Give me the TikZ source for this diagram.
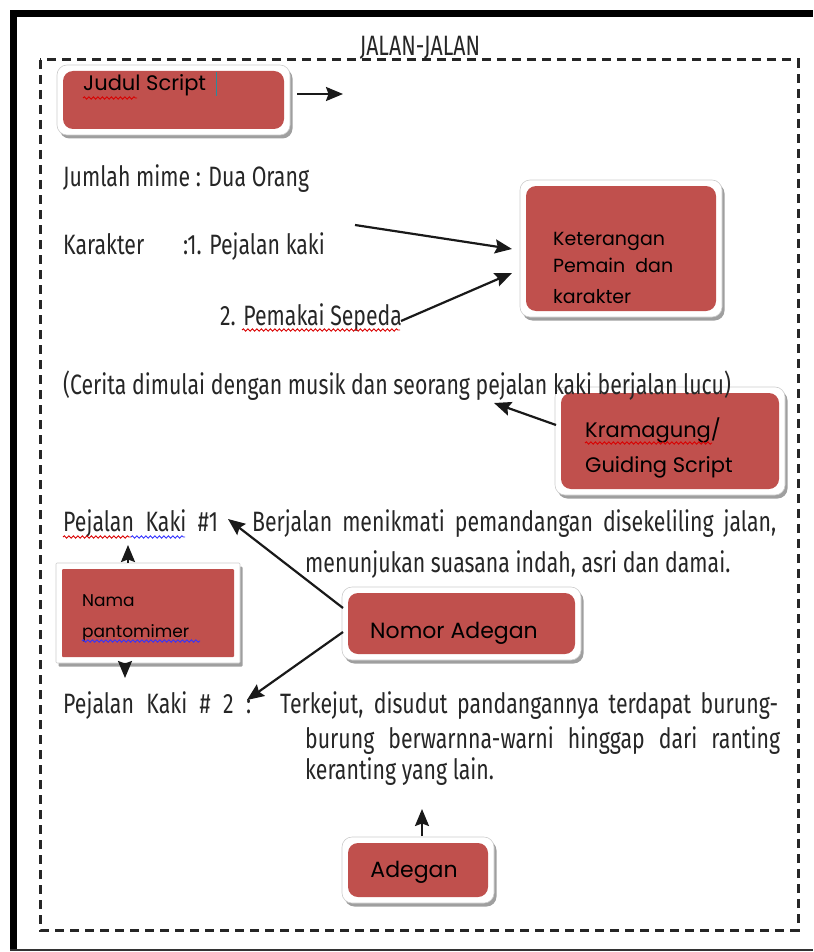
\documentclass[tikz,border=0pt]{standalone}
\usepackage{fontspec}
\setmainfont{Fira Sans}
\newfontfamily\bodyf[FakeStretch=0.76]{Fira Sans}
\newfontfamily\boxf{Poppins}
\usetikzlibrary{arrows.meta,shadows,decorations.pathmorphing}
\definecolor{boxred}{HTML}{C0504D}
\definecolor{txt}{HTML}{262626}
\definecolor{cursorc}{HTML}{2A8C9C}
\begin{document}
\begin{tikzpicture}[x=1pt,y=-1pt,
  body/.style={anchor=base west, inner sep=0pt, text=txt, font=\bodyf\fontsize{28}{30}\selectfont},
  boxtxt/.style={anchor=base west, inner sep=0pt, text=black, font=\boxf\fontsize{#1}{#1}\selectfont},
  boxtxt/.default=20,
  frame/.style={draw=gray!40, line width=0.6pt, fill=white, inner sep=0pt,
     rounded corners=#1,
     drop shadow={shadow xshift=2.5pt, shadow yshift=-3.5pt, opacity=0.5, fill=black!75},
     path picture={\fill[boxred, rounded corners=#1] ([shift={(6pt,-6pt)}]path picture bounding box.north west) rectangle ([shift={(-6pt,6pt)}]path picture bounding box.south east);}},
  frame/.default=10pt,
  tipshape/.tip={Stealth[length=17pt,width=14pt,inset=2.5pt]},
  arr/.style={draw=black!90, line width=2.2pt, -tipshape},
  redwave/.style={draw=red!85!black, line width=0.9pt, decorate, decoration={snake, amplitude=1.2pt, segment length=4.5pt}},
  bluewave/.style={draw=blue!80, line width=0.9pt, decorate, decoration={snake, amplitude=1.2pt, segment length=4.5pt}}
]
\useasboundingbox (0,0) rectangle (813,952);
% outer frame
\fill[black] (10,10) rectangle (813,17);
\fill[black] (10,10) rectangle (17,951);
\draw[black!80, line width=1.5pt] (10,950) -- (813,950);
% dashed box
\draw[black!85, line width=3pt, dash pattern=on 9pt off 6pt] (40,60) rectangle (798,930);
\node[body, anchor=base] (title) at (420,56) {JALAN-JALAN};

% boxes
\node[frame, minimum width=233pt, minimum height=70pt] (judul) at (173.5,100) {};
\node[boxtxt=21] (judulT) at (83,91) {Judul Script};
\draw[redwave] (83,98) -- (137,98);
\draw[cursorc, line width=1pt] (216,72) -- (216,96);

\node[frame, minimum width=202pt, minimum height=137pt] (ket) at (621,248.5) {};
\node[boxtxt=19] (ket1) at (553,245) {Keterangan};
\node[boxtxt=19] (ket2) at (553,272) {Pemain\ \ dan};
\node[boxtxt=19] (ket3) at (553,303) {karakter};

\node[frame, minimum width=230pt, minimum height=108pt] (kram) at (670,441) {};
\node[boxtxt=21] (kram1) at (585,437) {Kramagung/};
\node[boxtxt=21] (kram2) at (585,472) {Guiding Script};
\draw[redwave] (585,443) -- (712,443);

\node[frame=1pt, minimum width=184pt, minimum height=100pt] (nama) at (148,613) {};
\node[boxtxt=17] (nama1) at (82,606) {Nama};
\node[boxtxt=17] (nama2) at (82,637) {pantomimer};
\draw[bluewave] (82,641) -- (200,641);

\node[frame, minimum width=239pt, minimum height=73pt] (nomor) at (461.5,623.5) {};
\node[boxtxt=22] (nomorT) at (370,638) {Nomor Adegan};

\node[frame, minimum width=152pt, minimum height=66pt] (adegan) at (418,870) {};
\node[boxtxt=22, anchor=base] (adeganT) at (414,877) {Adegan};

% body text
\node[body] (jumlah) at (63,186) {Jumlah mime : Dua Orang};
\node[body] (kar) at (63,254) {Karakter};
\node[body] (kar1) at (183,254) {:1. Pejalan kaki};
\node[body] (kar2) at (220,325) {2. Pemakai Sepeda};
\draw[redwave] (242,330) -- (400,330);
\node[body] (cerita) at (63,394) {(Cerita dimulai dengan musik dan seorang pejalan kaki berjalan lucu)};

\node[body] (pk1) at (63,531) {\makebox[155pt][s]{Pejalan Kaki \#1}};
\draw[redwave] (63,537) -- (131,537);
\draw[bluewave] (131,537) -- (185,537);
\node[body] (pk1a) at (252,531) {\makebox[524pt][s]{Berjalan menikmati pemandangan disekeliling jalan,}};
\node[body] (pk1b) at (305,572) {menunjukan suasana indah, asri dan damai.};

\node[body] (pk2) at (63,713) {\makebox[188pt][s]{Pejalan Kaki \# 2 :}};
\node[body] (pk2a) at (280,713) {\makebox[498pt][s]{Terkejut, disudut pandangannya terdapat burung-}};
\node[body] (pk2b) at (305,748) {\makebox[475pt][s]{burung berwarnna-warni hinggap dari ranting}};
\node[body] (pk2c) at (305,779) {keranting yang lain.};

% arrow end points
\coordinate (jA) at (297,94);  \coordinate (jB) at (343,94);
\coordinate (k1a) at (355,225); \coordinate (k1b) at (512,249);
\coordinate (k2a) at (401,321); \coordinate (k2b) at (512,273);
\coordinate (kra) at (556,425); \coordinate (krb) at (494,403);
\coordinate (nua) at (128,563); \coordinate (nub) at (128,545);
\coordinate (nda) at (125,663); \coordinate (ndb) at (125,678);
\coordinate (n1a) at (343,608); \coordinate (n1b) at (228,519);
\coordinate (n2a) at (343,632); \coordinate (n2b) at (247,700);
\coordinate (ada) at (422,836); \coordinate (adb) at (422,809);

\draw[arr] (jA) -- (jB);
\draw[arr] (k1a) -- (k1b);
\draw[arr] (k2a) -- (k2b);
\draw[arr] (kra) -- (krb);
\draw[arr] (nua) -- (nub);
\draw[arr] (nda) -- (ndb);
\draw[arr] (n1a) -- (n1b);
\draw[arr] (n2a) -- (n2b);
\draw[arr] (ada) -- (adb);
\end{tikzpicture}
\end{document}
